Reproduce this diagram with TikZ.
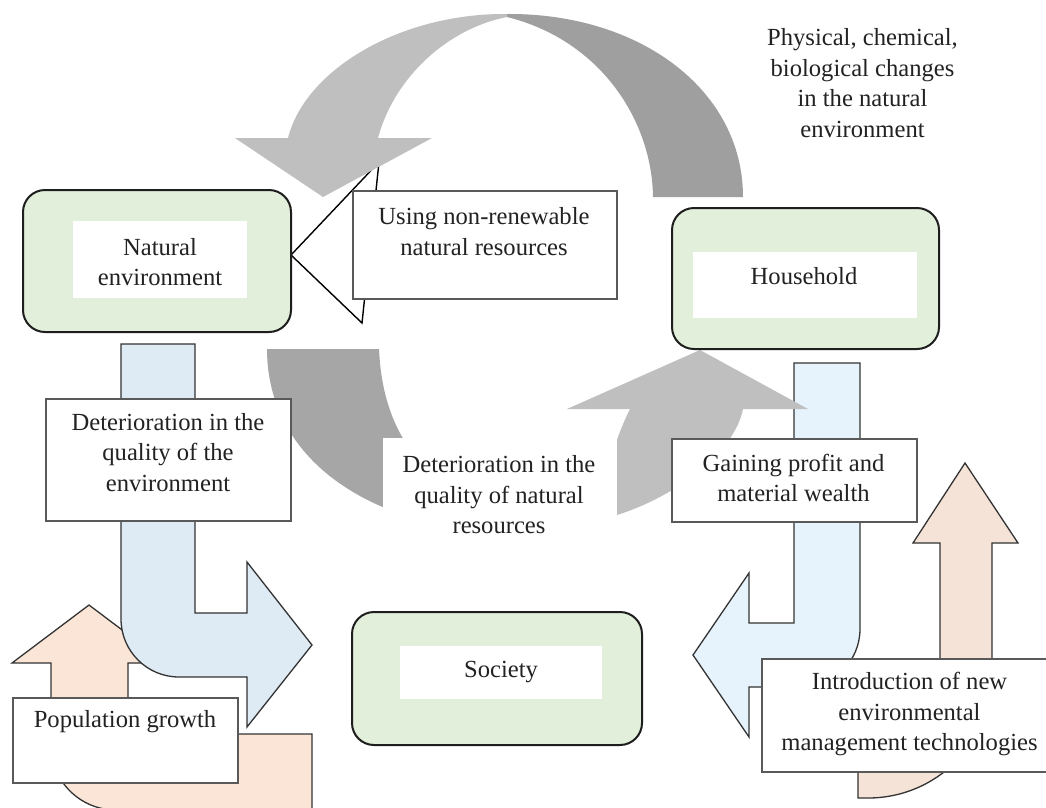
\documentclass[tikz,border=0pt]{standalone}
\usepackage{fontspec}
\setmainfont{Liberation Serif}
\definecolor{greenbox}{HTML}{E2EFDA}
\definecolor{blueL}{HTML}{DEEAF4}
\definecolor{blueR}{HTML}{E6F3FD}
\definecolor{peachL}{HTML}{FBE5D6}
\definecolor{peachR}{HTML}{F5E3D8}
\definecolor{grayL}{HTML}{BFBFBF}
\definecolor{grayD}{HTML}{9F9F9F}
\definecolor{grayM}{HTML}{A6A6A6}
\definecolor{txtcol}{HTML}{222222}
\definecolor{boxline}{HTML}{595959}
\definecolor{arrline}{HTML}{333333}
\definecolor{rline}{HTML}{1E1E1E}
\begin{document}
\begin{tikzpicture}[x=1pt,y=-1pt,
  rbox/.style={draw=rline, line width=2pt, fill=greenbox, rounded corners=22pt, inner sep=0pt, outer sep=0pt},
  wbox/.style={fill=white, inner sep=0pt, outer sep=0pt},
  ebox/.style={draw=boxline, line width=1.1pt, fill=white, inner sep=0pt, outer sep=0pt},
  lbl/.style={text=txtcol, font=\fontsize{24.6}{30.5}\selectfont, align=center, inner sep=0pt},
  arr/.style={draw=arrline, line width=1.3pt, line join=miter},
  wedge/.style={draw=black, line width=1.4pt, fill=white, line join=miter}]
\fill[white] (0,0) rectangle (1046,807);
\useasboundingbox (0,0) rectangle (1046,807);

% callout wedge of "Using non-renewable natural resources"
\draw[wedge] (291,255) -- (379,162) -- (362,323) -- cycle;

% right blue bent arrow (under the grey arrow head)
\draw[arr, fill=blueR] (794,363) -- (860,363) -- (860,629) .. controls (860,661) and (834,687) .. (802,687) -- (749,687) -- (749,737) -- (693,655) -- (749,573) -- (749,623) -- (794,623) -- cycle;

% top curved arrow
\fill[grayL] (507,14) .. controls (400,13) and (305,70) .. (288,138) -- (235,138) -- (323,197) -- (432,138) -- (378,138) .. controls (395,75) and (450,28) .. (507,17) -- cycle;
\fill[grayD] (507,14) .. controls (640,13) and (743,90) .. (743,197) -- (653,197) .. controls (652,120) and (600,40) .. (507,17) -- cycle;

% middle curved arrows
\fill[grayM] (267,349) -- (379,349) .. controls (381,392) and (392,425) .. (412,452) -- (412,515) -- (395,512) .. controls (310,480) and (267,420) .. (267,349) -- cycle;
\fill[grayL] (617,515) .. controls (680,495) and (735,450) .. (743,409) -- (808,409) -- (700,350) -- (567,409) -- (630,409) .. controls (622,425) and (612,450) .. (605,480) -- (600,520) -- cycle;

% green boxes
\node[rbox, minimum width=268, minimum height=142] (nat) at (157,261) {};
\node[wbox, minimum width=174, minimum height=77] (natin) at (160,259.5) {};
\node[lbl] (natT) at (160,262) {Natural\\environment};

\node[rbox, minimum width=267, minimum height=141] (hh) at (805.5,278.5) {};
\node[wbox, minimum width=224, minimum height=66] (hhin) at (805,285) {};
\node[lbl] (hhT) at (804,276) {Household};

\node[rbox, minimum width=290, minimum height=133] (soc) at (497,678.5) {};
\node[wbox, minimum width=202, minimum height=53] (socin) at (501,672.5) {};
\node[lbl] (socT) at (501,672) {Society};

% Using non-renewable box
\node[ebox, minimum width=264, minimum height=108] (use) at (485,245) {};
\node[lbl] (useT) at (484,231.5) {Using non-renewable\\natural resources};

% Deterioration in the quality of natural resources (no border)
\node[wbox, minimum width=234, minimum height=110] (detres) at (500,493) {};
\node[lbl] (detresT) at (499,495) {Deterioration in the\\quality of natural\\resources};

% left peach arrow
\draw[arr, fill=peachL] (312,734) -- (128,734) -- (128,663) -- (166,663) -- (89,605) -- (12,663) -- (51,663) -- (51,745) .. controls (51,781) and (80,810) .. (116,810) -- (312,810) -- cycle;
% left blue bent arrow
\draw[arr, fill=blueL] (121,344) -- (195,344) -- (195,613) -- (247,613) -- (247,562) -- (312,645) -- (247,727) -- (247,677) -- (179,677) .. controls (147,677) and (121,651) .. (121,619) -- cycle;

\node[ebox, minimum width=245, minimum height=122] (detenv) at (168.5,460) {};
\node[lbl] (detenvT) at (168,452.5) {Deterioration in the\\quality of the\\environment};

\node[ebox, minimum width=225, minimum height=85] (pop) at (125.5,740.5) {};
\node[lbl] (popT) at (125,722) {Population growth};

% right peach arrow
\draw[arr, fill=peachR] (965,463) -- (1018,543) -- (992,543) -- (992,674) .. controls (992,742.5) and (936.5,798) .. (868,798) -- (858,798) -- (858,746) -- (868,746) .. controls (907.8,746) and (940,713.8) .. (940,674) -- (940,543) -- (913,543) -- cycle;

\node[ebox, minimum width=245, minimum height=83] (gain) at (794.5,480.5) {};
\node[lbl] (gainT) at (793.5,478) {Gaining profit and\\material wealth};

\node[ebox, minimum width=290, minimum height=113] (intro) at (907,715.5) {};
\node[lbl] (introT) at (909.5,714) {Introduction of new\\environmental\\management technologies};

\node[lbl] (physT) at (862.5,83) {Physical, chemical,\\biological changes\\in the natural\\environment};
\end{tikzpicture}
\end{document}
